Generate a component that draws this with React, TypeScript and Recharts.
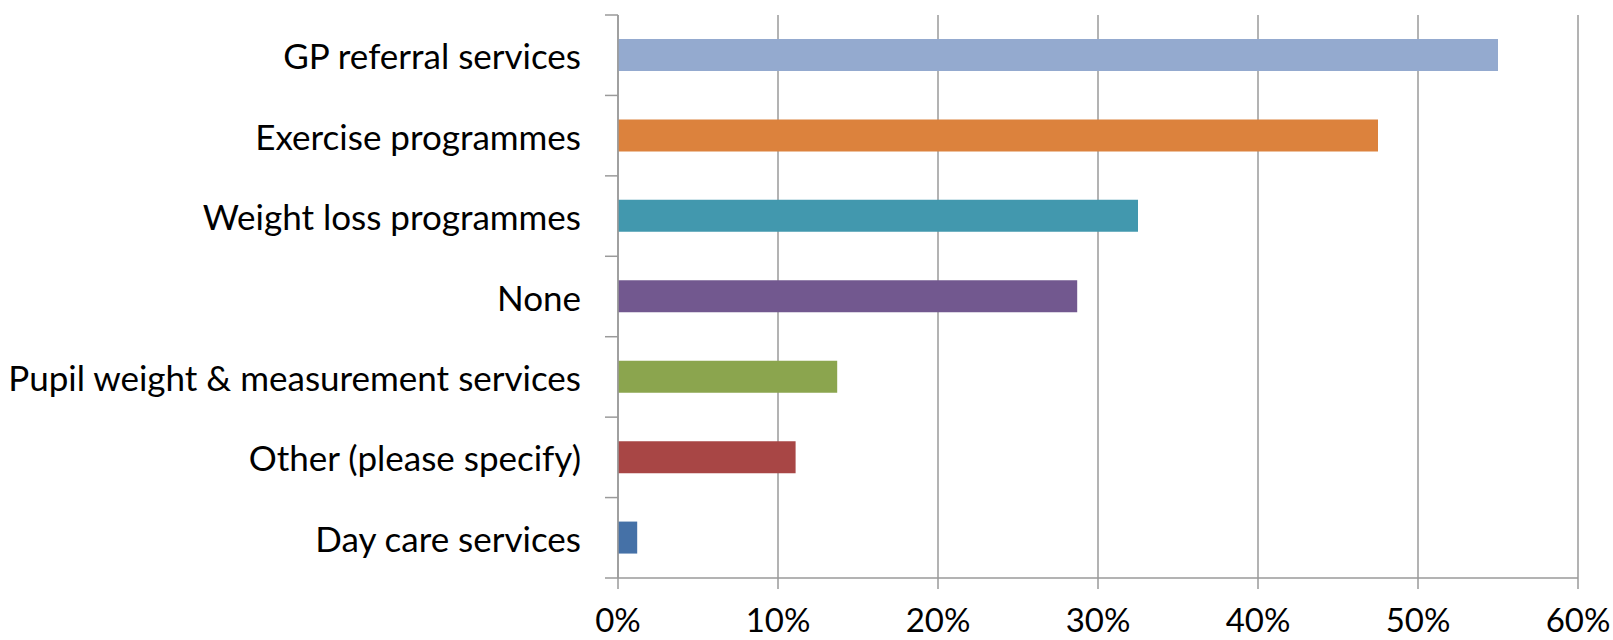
import { BarChart, Bar, XAxis, YAxis, CartesianGrid, Cell } from 'recharts';

// Categories top to bottom, as in the picture
const categories = [
    'GP referral services',
    'Exercise programmes',
    'Weight loss programmes',
    'None',
    'Pupil weight & measurement services',
    'Other (please specify)',
    'Day care services',
];

// Share of respondents (%)
const values = [55, 47.5, 32.5, 28.7, 13.7, 11.1, 1.2];

const xTicks = [0, 10, 20, 30, 40, 50, 60];

const COLORS = ['#94AACF', '#DC823D', '#4298AE', '#72588F', '#8BA54E', '#A84645', '#4571A7'];

const data = categories.map((name, i) => ({ name, value: values[i] }));

const WIDTH = 1613;
const HEIGHT = 640;
const X_AXIS_H = 62;
const MARGIN = { top: 15, right: 35, bottom: 0, left: 0 };
const Y_AXIS_W = 618;
const BAND = (HEIGHT - MARGIN.top - X_AXIS_H) / categories.length;
const AXIS_GREY = '#9a9a9a';
const FONT = 'Lato, "Open Sans", sans-serif';

// category label plus the Excel-style tick marks between categories
function CategoryTick(props: any) {
    const { y, payload, index } = props;
    const axisX = Y_AXIS_W;
    const top = y - BAND / 2;
    return (
        <g>
            <line x1={axisX - 13} x2={axisX} y1={top} y2={top} stroke={AXIS_GREY} strokeWidth={1.5} />
            {index === categories.length - 1 && (
                <line x1={axisX - 13} x2={axisX} y1={top + BAND} y2={top + BAND} stroke={AXIS_GREY} strokeWidth={1.5} />
            )}
            <text x={axisX - 37} y={y} textAnchor="end" dominantBaseline="central" fill="#000" fontSize={35} fontFamily={FONT}>
                {payload.value}
            </text>
        </g>
    );
}

export default function App() {
    return (
        <div style={{ position: 'absolute', left: 0, top: 0, background: '#fff' }}>
            <BarChart width={WIDTH} height={HEIGHT} data={data} layout="vertical" margin={MARGIN} barSize={32}>
                <CartesianGrid horizontal={false} stroke={AXIS_GREY} strokeWidth={1.5} />
                <XAxis
                    type="number"
                    domain={[0, 60]}
                    ticks={xTicks}
                    interval={0}
                    height={X_AXIS_H}
                    tickFormatter={(v) => `${v}%`}
                    tickSize={11}
                    tickMargin={20}
                    axisLine={{ stroke: AXIS_GREY, strokeWidth: 1.5 }}
                    tickLine={{ stroke: AXIS_GREY, strokeWidth: 1.5 }}
                    tick={{ fill: '#000', fontSize: 33, fontFamily: FONT }}
                />
                <YAxis
                    type="category"
                    dataKey="name"
                    width={Y_AXIS_W}
                    axisLine={{ stroke: AXIS_GREY, strokeWidth: 1.5 }}
                    tickLine={false}
                    tick={<CategoryTick />}
                    interval={0}
                />
                <Bar dataKey="value" isAnimationActive={false}>
                    {data.map((_entry, index) => (
                        <Cell key={`cell-${index}`} fill={COLORS[index % COLORS.length]} />
                    ))}
                </Bar>
            </BarChart>
        </div>
    );
}
